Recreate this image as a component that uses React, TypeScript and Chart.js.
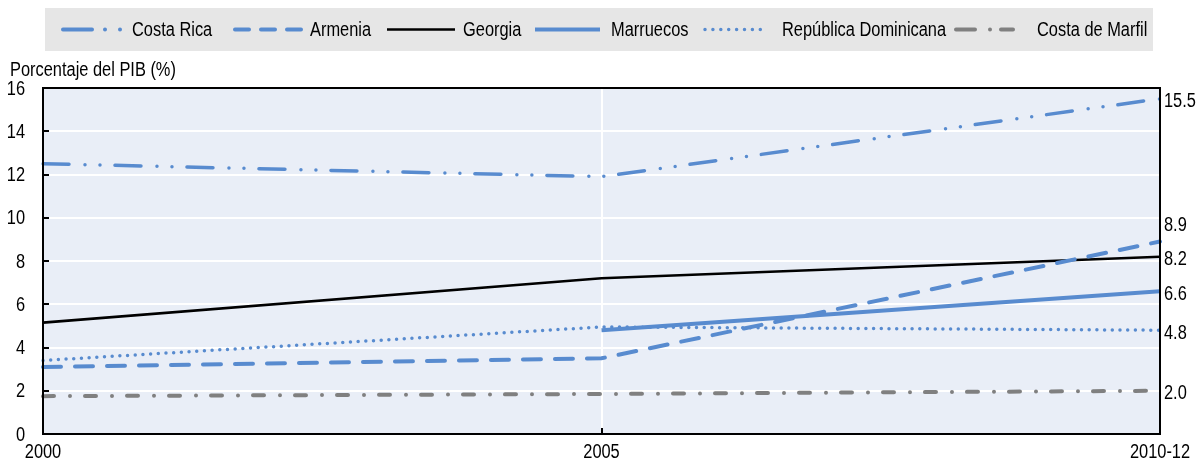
import React, { useEffect, useRef } from "react";
import { Chart, registerables } from "chart.js";

Chart.register(...registerables);

// ---- data ----
const years = ["2000", "2005", "2010-12"];
const seriesNames = ["Costa Rica", "Armenia", "Georgia", "Marruecos", "República Dominicana", "Costa de Marfil"];
const costaRica = [12.5, 11.9, 15.5];
const armenia = [3.1, 3.5, 8.9];
const georgia = [5.15, 7.2, 8.2];
const marruecos = [null, 4.8, 6.6];
const repDominicana = [3.4, 4.95, 4.8];
const costaMarfil = [1.75, 1.85, 2.0];
const yTicks = [0, 2, 4, 6, 8, 10, 12, 14, 16];
const yTitle = "Porcentaje del PIB (%)";

// ---- styles ----
const FONT = "'Liberation Sans', Arial, sans-serif";
const FONT_SIZE = 20;
const NARROW = 0.82;
const BLUE = "#588BCF";
const GREY = "#808080";
const PLOT_BG = "#E9EEF7";
const LEGEND_BG = "#E6E6E6";

const seriesStyles = [
  { color: BLUE, width: 3.5, dash: [26, 16, 0, 15, 0, 15], cap: "round" },
  { color: BLUE, width: 4, dash: [18, 14], cap: "round" },
  { color: "#000000", width: 2.6, dash: [], cap: "butt" },
  { color: BLUE, width: 4, dash: [], cap: "butt" },
  { color: BLUE, width: 3.5, dash: [0, 7.7], cap: "round" },
  { color: GREY, width: 4, dash: [11, 16, 0, 15], cap: "round" },
];

// legend layout (sample start/end, text start) and sample dash
const legendLayout = [
  { x0: 63, x1: 122, tx: 132, dash: [29, 13, 0, 15, 0, 100] },
  { x0: 235, x1: 302, tx: 310, dash: [14, 12] },
  { x0: 387, x1: 455, tx: 463, dash: [] },
  { x0: 535, x1: 600, tx: 611, dash: [] },
  { x0: 705, x1: 768, tx: 782, dash: [0, 7.9] },
  { x0: 956, x1: 1013, tx: 1037, dash: [19, 15, 0, 11, 30] },
];

const seriesData = [costaRica, armenia, georgia, marruecos, repDominicana, costaMarfil];

function drawText(ctx: CanvasRenderingContext2D, text: string, x: number, y: number, align: CanvasTextAlign) {
  ctx.save();
  ctx.translate(x, y);
  ctx.scale(NARROW, 1);
  ctx.font = `${FONT_SIZE}px ${FONT}`;
  ctx.fillStyle = "#000";
  ctx.textAlign = align;
  ctx.textBaseline = "middle";
  ctx.fillText(text, 0, 0);
  ctx.restore();
}

const decorPlugin = {
  id: "decor",
  beforeDraw(chart: any) {
    const { ctx, chartArea } = chart;
    ctx.save();
    ctx.fillStyle = "#ffffff";
    ctx.fillRect(0, 0, chart.width, chart.height);
    ctx.fillStyle = PLOT_BG;
    ctx.fillRect(chartArea.left, chartArea.top, chartArea.right - chartArea.left, chartArea.bottom - chartArea.top);
    // legend box
    ctx.fillStyle = LEGEND_BG;
    ctx.fillRect(45, 8, 1108, 43);
    const ly = 29.5;
    seriesNames.forEach((name, i) => {
      const st = seriesStyles[i];
      const lg = legendLayout[i];
      ctx.beginPath();
      ctx.strokeStyle = st.color;
      ctx.lineWidth = st.width + (i === 0 ? 0.5 : 0);
      ctx.lineCap = st.cap;
      ctx.setLineDash(lg.dash);
      ctx.moveTo(lg.x0, ly);
      ctx.lineTo(lg.x1, ly);
      ctx.stroke();
      ctx.setLineDash([]);
      drawText(ctx, name, lg.tx, ly + 0.5, "left");
    });
    // y title
    drawText(ctx, yTitle, 10, 70, "left");
    ctx.restore();
  },
  afterDatasetsDraw(chart: any) {
    const { ctx, chartArea, scales } = chart;
    const ys = scales.y;
    const xs = scales.x;
    ctx.save();
    ctx.setLineDash([]);
    ctx.strokeStyle = "#000";
    ctx.lineWidth = 2;
    // inward ticks
    ctx.beginPath();
    yTicks.forEach((v) => {
      const py = Math.round(ys.getPixelForValue(v));
      ctx.moveTo(chartArea.left, py);
      ctx.lineTo(chartArea.left + 6, py);
    });
    years.forEach((_, i) => {
      const px = Math.round(xs.getPixelForValue(i));
      ctx.moveTo(px, chartArea.bottom);
      ctx.lineTo(px, chartArea.bottom - 6);
    });
    ctx.stroke();
    // frame
    ctx.strokeRect(chartArea.left, chartArea.top, chartArea.right - chartArea.left, chartArea.bottom - chartArea.top);
    // tick labels
    yTicks.forEach((v) => drawText(ctx, String(v), chartArea.left - 18, ys.getPixelForValue(v) + 1, "right"));
    years.forEach((y, i) => drawText(ctx, y, xs.getPixelForValue(i), chartArea.bottom + 18, "center"));
    // end labels
    const last = years.length - 1;
    const labels = seriesData
      .map((d) => d[last] as number)
      .map((v) => ({ v, y: ys.getPixelForValue(v) + 3 }))
      .sort((a, b) => b.y - a.y);
    const minSep = 34;
    for (let i = 1; i < labels.length; i++) {
      if (labels[i - 1].y - labels[i].y < minSep) labels[i].y = labels[i - 1].y - minSep;
    }
    labels.forEach((l) => drawText(ctx, l.v.toFixed(1), chartArea.right + 4, l.y, "left"));
    ctx.restore();
  },
};

export default function App() {
  const ref = useRef<HTMLCanvasElement>(null);
  useEffect(() => {
    if (!ref.current) return;
    const chart = new Chart(ref.current, {
      type: "line",
      data: {
        labels: years,
        datasets: seriesNames.map((name, i) => ({
          label: name,
          data: seriesData[i],
          borderColor: seriesStyles[i].color,
          borderWidth: seriesStyles[i].width,
          borderDash: seriesStyles[i].dash,
          borderCapStyle: seriesStyles[i].cap as any,
          pointRadius: 0,
          tension: 0,
          fill: false,
          spanGaps: false,
        })),
      },
      options: {
        animation: false,
        responsive: false,
        layout: { padding: { top: 88, right: 38, left: 0, bottom: 0 } },
        plugins: { legend: { display: false }, tooltip: { enabled: false }, title: { display: false } },
        scales: {
          x: {
            type: "category",
            offset: false,
            grid: { color: "#ffffff", lineWidth: 2, drawTicks: false },
            border: { display: false },
            ticks: { display: false, autoSkip: false, maxRotation: 0 },
            afterFit: (axis: any) => {
              axis.height = 27;
            },
          },
          y: {
            min: 0,
            max: 16,
            grid: { color: "#ffffff", lineWidth: 2, drawTicks: false },
            border: { display: false },
            afterBuildTicks: (axis: any) => {
              axis.ticks = yTicks.map((v) => ({ value: v }));
            },
            ticks: { display: false },
            afterFit: (axis: any) => {
              axis.width = 43;
            },
          },
        },
      },
      plugins: [decorPlugin],
    });
    return () => chart.destroy();
  }, []);
  return (
    <div style={{ position: "absolute", left: 0, top: 0, width: 1198, height: 461 }}>
      <canvas ref={ref} width={1198} height={461} />
    </div>
  );
}
